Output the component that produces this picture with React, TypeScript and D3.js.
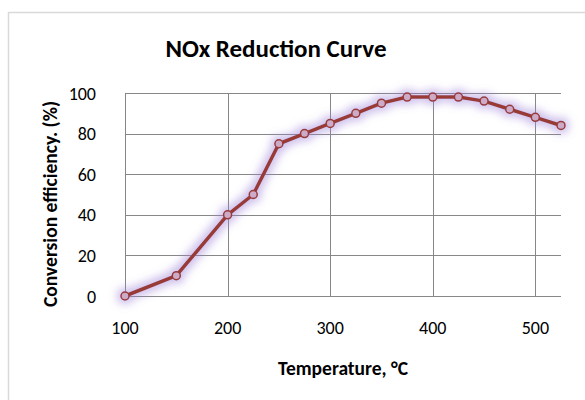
import { useRef, useEffect } from "react";
import * as d3 from "d3";

const WIDTH = 585;
const HEIGHT = 400;

const TEMPS = [100, 150, 200, 225, 250, 275, 300, 325, 350, 375, 400, 425, 450, 475, 500, 525];
const EFFICIENCY = [0, 10, 40, 50, 75, 80, 85, 90, 95, 98, 98, 98, 96, 92, 88, 84];
const X_TICKS = [100, 200, 300, 400, 500];
const Y_TICKS = [0, 20, 40, 60, 80, 100];

const TITLE = "NOx Reduction Curve";
const X_TITLE = "Temperature, °C";
const Y_TITLE = "Conversion efficiency. (%)";

const FONT = "Calibri, Carlito, Lato, sans-serif";
const LINE_COLOR = "#983a36";
const GRID_COLOR = "#878787";

const App = () => {
  const svgRef = useRef<SVGSVGElement>(null);

  useEffect(() => {
    const svg = d3.select(svgRef.current);
    svg.selectAll("*").remove();

    const x = d3.scaleLinear([100, 525], [125, 561]);
    const y = d3.scaleLinear([0, 100], [296, 93]);

    // glow filter
    const defs = svg.append("defs");
    const f = defs.append("filter").attr("id", "glow")
      .attr("x", "-20%").attr("y", "-20%").attr("width", "140%").attr("height", "140%");
    f.append("feMorphology").attr("in", "SourceAlpha").attr("operator", "dilate").attr("radius", 2.5).attr("result", "d");
    f.append("feGaussianBlur").attr("in", "d").attr("stdDeviation", 4).attr("result", "b");
    f.append("feFlood").attr("flood-color", "#9a7ed6").attr("flood-opacity", 0.5);
    f.append("feComposite").attr("in2", "b").attr("operator", "in").attr("result", "g");
    const m = f.append("feMerge");
    m.append("feMergeNode").attr("in", "g");
    m.append("feMergeNode").attr("in", "SourceGraphic");

    // outer border
    svg.append("rect")
      .attr("x", 8.5).attr("y", 12.5).attr("width", 600).attr("height", 400)
      .attr("fill", "#fff").attr("stroke", "#d9d9d9").attr("stroke-width", 1.5);

    // grid
    const grid = svg.append("g").attr("stroke", GRID_COLOR).attr("stroke-width", 1);
    grid.selectAll(".h").data(Y_TICKS).join("line")
      .attr("x1", x(100)).attr("x2", x(525))
      .attr("y1", d => Math.round(y(d)) + 0.5).attr("y2", d => Math.round(y(d)) + 0.5);
    grid.selectAll(".v").data(X_TICKS).join("line")
      .attr("y1", y(0)).attr("y2", y(100))
      .attr("x1", d => Math.round(x(d)) + 0.5).attr("x2", d => Math.round(x(d)) + 0.5);

    // tick labels
    svg.append("g").selectAll("text").data(Y_TICKS).join("text")
      .attr("x", 96).attr("y", d => y(d) + 6.5)
      .attr("text-anchor", "end")
      .attr("font-family", FONT).attr("font-size", 18).attr("fill", "#000")
      .text(d => d);
    svg.append("g").selectAll("text").data(X_TICKS).join("text")
      .attr("x", d => x(d)).attr("y", 334)
      .attr("text-anchor", "middle")
      .attr("font-family", FONT).attr("font-size", 18).attr("fill", "#000")
      .text(d => d);

    // titles
    svg.append("text")
      .attr("x", 276).attr("y", 57)
      .attr("text-anchor", "middle")
      .attr("font-family", FONT).attr("font-weight", "bold").attr("font-size", 25)
      .text(TITLE);
    svg.append("text")
      .attr("x", 343).attr("y", 375)
      .attr("text-anchor", "middle")
      .attr("font-family", FONT).attr("font-weight", "bold").attr("font-size", 19.5)
      .text(X_TITLE);
    svg.append("text")
      .attr("transform", "translate(57,204) rotate(-90)")
      .attr("text-anchor", "middle")
      .attr("font-family", FONT).attr("font-weight", "bold").attr("font-size", 19.5)
      .text(Y_TITLE);

    // series
    const data = TEMPS.map((t, i) => ({ t, v: EFFICIENCY[i] }));
    const line = d3.line<{ t: number; v: number }>().x(d => x(d.t)).y(d => y(d.v));
    const series = svg.append("g").attr("filter", "url(#glow)");
    series.append("path")
      .attr("d", line(data))
      .attr("fill", "none").attr("stroke", LINE_COLOR).attr("stroke-width", 3.5)
      .attr("stroke-linejoin", "round");
    series.selectAll("circle").data(data).join("circle")
      .attr("cx", d => x(d.t)).attr("cy", d => y(d.v)).attr("r", 4)
      .attr("fill", "#cdaac8").attr("stroke", LINE_COLOR).attr("stroke-width", 1.5);
  }, []);

  return (
    <svg ref={svgRef} width={WIDTH} height={HEIGHT}
      style={{ position: "absolute", left: 0, top: 0, background: "#fff" }} />
  );
};

export default App;
